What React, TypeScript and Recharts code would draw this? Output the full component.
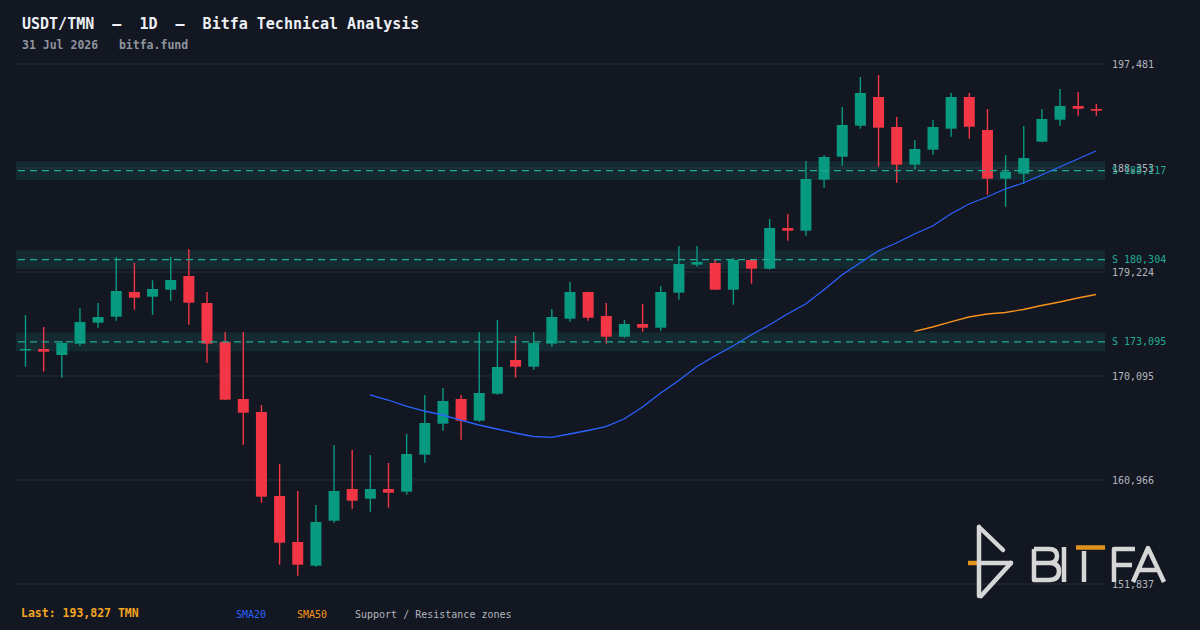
import React from 'react';
import {
  ComposedChart,
  Bar,
  Line,
  XAxis,
  YAxis,
  CartesianGrid,
  ReferenceArea,
  ReferenceLine,
} from 'recharts';

const dates = [
  'Jun 02', 'Jun 03', 'Jun 04', 'Jun 05', 'Jun 06', 'Jun 07', 'Jun 08', 'Jun 09', 'Jun 10', 'Jun 11',
  'Jun 12', 'Jun 13', 'Jun 14', 'Jun 15', 'Jun 16', 'Jun 17', 'Jun 18', 'Jun 19', 'Jun 20', 'Jun 21',
  'Jun 22', 'Jun 23', 'Jun 24', 'Jun 25', 'Jun 26', 'Jun 27', 'Jun 28', 'Jun 29', 'Jun 30', 'Jul 01',
  'Jul 02', 'Jul 03', 'Jul 04', 'Jul 05', 'Jul 06', 'Jul 07', 'Jul 08', 'Jul 09', 'Jul 10', 'Jul 11',
  'Jul 12', 'Jul 13', 'Jul 14', 'Jul 15', 'Jul 16', 'Jul 17', 'Jul 18', 'Jul 19', 'Jul 20', 'Jul 21',
  'Jul 22', 'Jul 23', 'Jul 24', 'Jul 25', 'Jul 26', 'Jul 27', 'Jul 28', 'Jul 29', 'Jul 30', 'Jul 31',
];

const opens = [
  172377, 172465, 171938, 172930, 174773, 175300, 177468, 177055, 177670, 178872,
  176502, 173079, 168076, 166935, 159561, 155524, 153443, 157393, 160176, 159324,
  160176, 159939, 163187, 165908, 168076, 166171, 168541, 171499, 170911, 172930,
  175124, 177468, 175361, 173544, 174659, 174334, 177406, 179864, 180013, 177670,
  180277, 179513, 183086, 182849, 187325, 189344, 192065, 194584, 191951, 188642,
  189959, 191802, 194584, 191688, 187413, 187852, 190661, 192592, 193794, 193531,
];
const highs = [
  175449, 174396, 173167, 176037, 176502, 180540, 180013, 178495, 180540, 181242,
  177468, 173957, 173957, 167549, 162370, 160000, 158771, 164038, 163599, 163160,
  162458, 165004, 168427, 169041, 168427, 173957, 175010, 173606, 173957, 175976,
  178346, 177500, 176502, 175010, 176415, 177995, 181506, 181506, 180277, 180452,
  180364, 183876, 184314, 188967, 189493, 193707, 196340, 196515, 192829, 190810,
  192565, 194935, 194935, 193531, 189493, 192039, 193531, 195287, 195023, 193970,
];
const lows = [
  170911, 170472, 169945, 172754, 174334, 174949, 175914, 175475, 176704, 174597,
  171262, 167990, 164064, 158973, 153531, 152565, 153355, 157217, 158447, 158183,
  158534, 159676, 162484, 165293, 164503, 166083, 168453, 169945, 170648, 172666,
  174861, 174949, 172930, 173457, 173983, 174071, 176792, 179689, 177640, 176353,
  178196, 179425, 181971, 182410, 186623, 188554, 191802, 188466, 187062, 188203,
  189520, 191100, 190924, 186009, 184955, 186974, 190620, 192065, 192943, 192943,
];
const closes = [
  172465, 172227, 172991, 174835, 175273, 177556, 176968, 177731, 178521, 176529,
  172930, 168014, 166873, 159500, 155462, 153531, 157279, 160000, 159149, 160176,
  159851, 163248, 165969, 167900, 166171, 168602, 170885, 170911, 172991, 175273,
  177468, 175212, 173544, 174659, 174334, 177468, 179926, 180101, 177670, 180277,
  179513, 183086, 182849, 187387, 189318, 192127, 194935, 191890, 188642, 190020,
  191951, 194584, 191977, 187413, 188027, 189230, 192653, 193794, 193557, 193382,
];
const sma20 = [
  null, null, null, null, null, null, null, null, null, null,
  null, null, null, null, null, null, null, null, null, 168427,
  167988, 167461, 167022, 166671, 166232, 165794, 165442, 165091, 164784, 164714,
  165004, 165311, 165644, 166320, 167347, 168576, 169682, 170911, 171850, 172728,
  173693, 174571, 175537, 176415, 177643, 178960, 180013, 181067, 181769, 182559,
  183261, 184314, 185192, 185807, 186509, 187036, 187738, 188440, 189142, 189844,
];
const sma50 = [
  null, null, null, null, null, null, null, null, null, null,
  null, null, null, null, null, null, null, null, null, null,
  null, null, null, null, null, null, null, null, null, null,
  null, null, null, null, null, null, null, null, null, null,
  null, null, null, null, null, null, null, null, null, 174018,
  174396, 174835, 175273, 175537, 175668, 175932, 176282, 176590, 176941, 177248,
];

const yTicks = [151837, 160966, 170095, 179224, 188353, 197481];
const supports = [188117, 180304, 173095];
const zoneHalf = 820;

const titleText = 'USDT/TMN  –  1D  –  Bitfa Technical Analysis';
const subtitleText = '31 Jul 2026   bitfa.fund';
const lastText = 'Last: 193,827 TMN';

const BG = '#131722';
const GREEN = '#089981';
const RED = '#f23645';
const TEAL = '#22ab94';
const BLUE = '#2962ff';
const ORANGE = '#f7931a';
const MONO = '"DejaVu Sans Mono", "Liberation Mono", monospace';

const fmt = (v: number) => v.toLocaleString('en-US');

const data = dates.map((d, i) => ({
  date: d,
  open: opens[i],
  high: highs[i],
  low: lows[i],
  close: closes[i],
  range: [lows[i], highs[i]],
  sma20: sma20[i],
  sma50: sma50[i],
}));

const Candle = (props: any) => {
  const { x, y, width, height, payload } = props;
  if (x == null || y == null || !payload) return null;
  const { open, close, high, low } = payload;
  const top = Math.min(y, y + height);
  const h = Math.abs(height);
  const k = high === low ? 0 : h / (high - low);
  const py = (v: number) => top + (high - v) * k;
  const up = close >= open;
  const color = up ? GREEN : RED;
  const bTop = py(Math.max(open, close));
  const bBot = py(Math.min(open, close));
  const cx = x + width / 2;
  return (
    <g>
      <line x1={cx} x2={cx} y1={top} y2={top + h} stroke={color} strokeWidth={1.4} />
      <rect x={x} y={bTop} width={width} height={Math.max(bBot - bTop, 1.5)} fill={color} />
    </g>
  );
};

const Logo = () => (
  <g stroke="#d6d6d6" strokeWidth={4.5} strokeLinecap="round" strokeLinejoin="round" fill="none">
    {/* icon */}
    <line x1={968} y1={563} x2={977} y2={563} stroke="#e0921c" strokeLinecap="butt" />
    <line x1={979} y1={527} x2={979} y2={596} />
    <line x1={979} y1={527} x2={1003} y2={550} />
    <line x1={979} y1={563} x2={1011} y2={563} />
    <line x1={1011} y1={563} x2={981} y2={596} />
    {/* B */}
    <path
      d="M1034 549 H1049 Q1057 549 1057 556 Q1057 563 1049 563 H1036 M1049 563 Q1059 563 1059 571 Q1059 580 1049 580 H1034 V549"
      strokeLinecap="butt"
    />
    {/* I */}
    <line x1={1064} y1={547} x2={1064} y2={582} strokeLinecap="butt" />
    {/* T */}
    <line x1={1076} y1={547.5} x2={1105} y2={547.5} stroke="#e0921c" strokeLinecap="butt" />
    <line x1={1084} y1={551} x2={1084} y2={582} strokeLinecap="butt" />
    {/* F */}
    <path d="M1114 582 V549 H1135 M1114 565 H1132" strokeLinecap="butt" />
    {/* A */}
    <path d="M1133 582 L1148 548 L1164 582 M1139 570 H1158" strokeLinecap="butt" />
  </g>
);

export default function App() {
  return (
    <div
      style={{
        position: 'absolute',
        left: 0,
        top: 0,
        width: 1200,
        height: 630,
        background: BG,
        overflow: 'hidden',
      }}
    >
      <ComposedChart
        width={1200}
        height={630}
        data={data}
        margin={{ top: 64, right: 35, bottom: 46, left: 16 }}
      >
        <CartesianGrid vertical={false} stroke="#2a2e39" strokeWidth={1} />
        <XAxis dataKey="date" hide />
        <YAxis
          orientation="right"
          domain={[yTicks[0], yTicks[yTicks.length - 1]]}
          ticks={yTicks}
          allowDataOverflow
          width={60}
          axisLine={false}
          tickLine={false}
          tickSize={4}
          tickMargin={3}
          tickFormatter={fmt}
          tick={{ fill: '#b2b5be', fontSize: 10, fontFamily: MONO, textAnchor: 'start' }}
          interval={0}
        />
        {supports.map((s) => (
          <ReferenceArea
            key={'z' + s}
            y1={s - zoneHalf}
            y2={s + zoneHalf}
            fill="#26a69a"
            fillOpacity={0.13}
            stroke="none"
            ifOverflow="hidden"
          />
        ))}
        {supports.map((s) => (
          <ReferenceLine
            key={'l' + s}
            y={s}
            stroke={TEAL}
            strokeWidth={1.2}
            strokeDasharray="7 5"
            label={{
              value: 'S ' + fmt(s),
              position: 'right',
              offset: 7,
              fill: TEAL,
              fontSize: 10,
              fontFamily: MONO,
            }}
          />
        ))}
        <Bar dataKey="range" barSize={11} shape={Candle} isAnimationActive={false} />
        <Line
          type="linear"
          dataKey="sma20"
          stroke={BLUE}
          strokeWidth={1.3}
          dot={false}
          activeDot={false}
          connectNulls={false}
          isAnimationActive={false}
        />
        <Line
          type="linear"
          dataKey="sma50"
          stroke={ORANGE}
          strokeWidth={1.3}
          dot={false}
          activeDot={false}
          connectNulls={false}
          isAnimationActive={false}
        />
      </ComposedChart>
      <svg
        width={1200}
        height={630}
        style={{ position: 'absolute', left: 0, top: 0, pointerEvents: 'none' }}
      >
        <text x={22} y={29} fill="#eceff4" fontSize={15} fontWeight="bold" fontFamily={MONO} style={{ whiteSpace: 'pre' }}>
          {titleText}
        </text>
        <text x={22} y={49} fill="#8f949e" fontSize={11.5} fontWeight="bold" fontFamily={MONO} style={{ whiteSpace: 'pre' }}>
          {subtitleText}
        </text>
        <text x={21} y={617} fill="#f5a623" fontSize={11.5} fontWeight="bold" fontFamily={MONO} style={{ whiteSpace: 'pre' }}>
          {lastText}
        </text>
        <text x={236} y={618} fill={BLUE} fontSize={10} fontFamily={MONO}>SMA20</text>
        <text x={297} y={618} fill={ORANGE} fontSize={10} fontFamily={MONO}>SMA50</text>
        <text x={355} y={618} fill="#b2b5be" fontSize={10} fontFamily={MONO}>Support / Resistance zones</text>
        <Logo />
      </svg>
    </div>
  );
}
